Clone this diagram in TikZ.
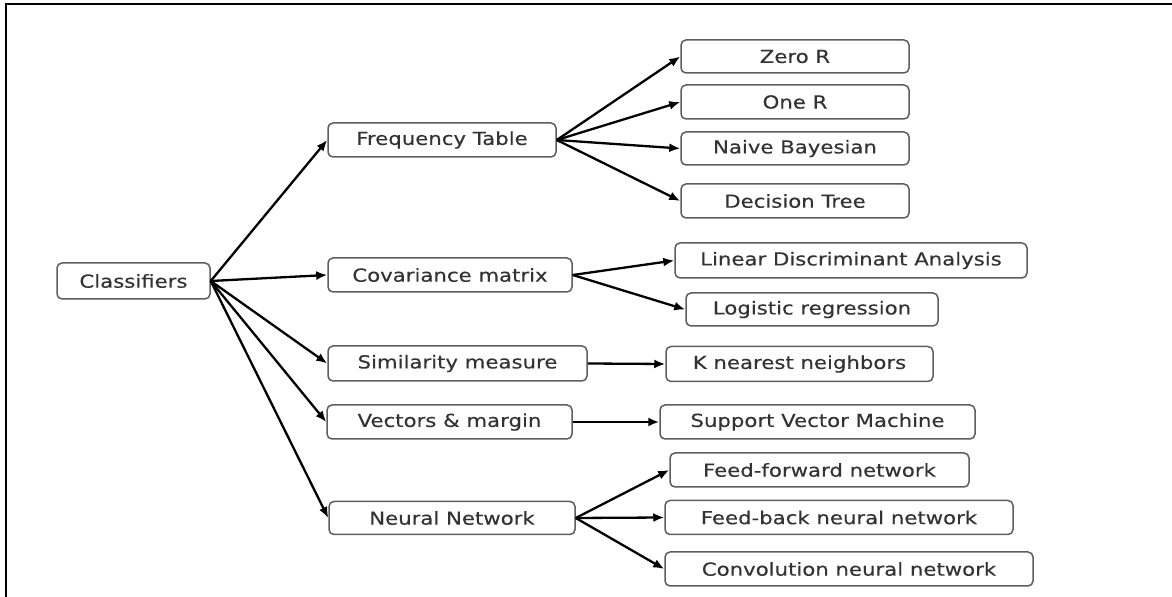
\documentclass[tikz,border=0pt]{standalone}
\usepackage{fontspec}
\setmainfont{DejaVu Sans}[FakeStretch=1.18,FakeBold=0.3]
\usetikzlibrary{arrows.meta}
\definecolor{txt}{HTML}{333333}
\definecolor{boxline}{HTML}{5E5E5E}
\begin{document}
\begin{tikzpicture}[x=0.5pt,y=-0.5pt,
  box/.style 2 args={draw=boxline, line width=0.75pt, rounded corners=2.5pt,
    text=txt, font=\fontsize{9}{11}\selectfont, inner sep=0pt,
    minimum width=#1*0.5pt, minimum height=#2*0.5pt},
  arr/.style={line width=1.15pt, -{Latex[length=5.5pt,width=4.5pt]}}]
\useasboundingbox (0,0) rectangle (1172,597);
% outer frame (top and left edges)
\draw[line width=1.1pt] (6,597) -- (6,4) -- (1172,4);
% level 0
\node[box={153}{36}] (cls) at (133.5,281) {Classifiers};
% level 1
\node[box={228}{34}] (freq) at (442,140) {Frequency Table};
\node[box={244}{34}] (cov) at (450,275) {Covariance matrix};
\node[box={259}{35}] (sim) at (457.5,363.5) {Similarity measure};
\node[box={245}{34}] (vec) at (449.5,422) {Vectors \& margin};
\node[box={246}{33}] (nn) at (452,518) {Neural Network};
% level 2
\node[box={228}{33}] (zero) at (795,56.5) {Zero R};
\node[box={228}{34}] (one) at (795,102) {One R};
\node[box={228}{33}] (naive) at (795,148.5) {Naive Bayesian};
\node[box={228}{34}] (dec) at (795,201) {Decision Tree};
\node[box={352}{35}] (lda) at (851,260.5) {Linear Discriminant Analysis};
\node[box={252}{33}] (lr) at (812,309.5) {Logistic regression};
\node[box={267}{35}] (knn) at (799.5,364) {K nearest neighbors};
\node[box={315}{34}] (svm) at (817.5,422) {Support Vector Machine};
\node[box={299}{34}] (ff) at (819.5,470) {Feed-forward network};
\node[box={348}{34}] (fb) at (839,517.5) {Feed-back neural network};
\node[box={368}{34}] (conv) at (849,569) {Convolution neural network};
% connectors
\foreach \t in {freq,cov,sim,vec,nn} \draw[arr] (cls.east) -- (\t.west);
\foreach \t in {zero,one,naive,dec} \draw[arr] (freq.east) -- (\t.west);
\foreach \t in {lda,lr} \draw[arr] (cov.east) -- (\t.west);
\draw[arr] (sim.east) -- (knn.west);
\draw[arr] (vec.east) -- (svm.west);
\foreach \t in {ff,fb,conv} \draw[arr] (nn.east) -- (\t.west);
\end{tikzpicture}
\end{document}
